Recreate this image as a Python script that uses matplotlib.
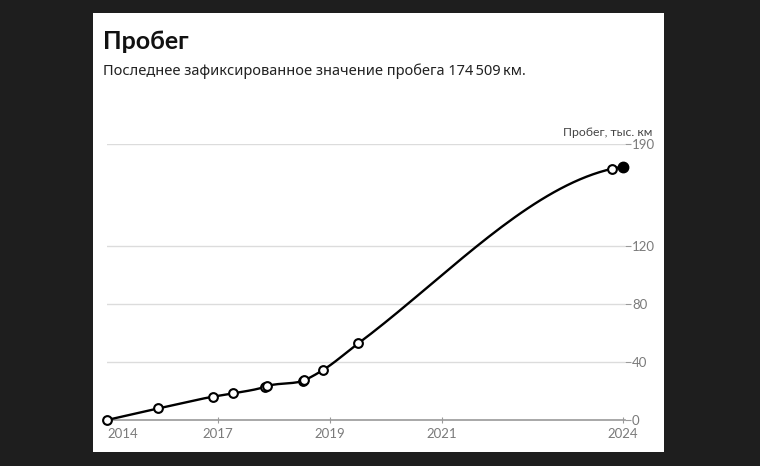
# -*- coding: utf-8 -*-
"""Пробег – mileage over time, single line with point markers."""

import numpy as np
import matplotlib
matplotlib.use("Agg")
import matplotlib.pyplot as plt
from matplotlib.patches import Rectangle

plt.rcParams["font.family"] = ["Lato", "Noto Sans", "DejaVu Sans"]

# ── Data ───────────────────────────────────────────────────────────────────────
# decimal years of each record, mileage in thousand km
years = [2014.90, 2015.86, 2016.87, 2017.26, 2017.85, 2017.89,
         2018.55, 2018.58, 2018.93, 2019.59, 2024.33, 2024.53]
mileage = [0.0, 8.0, 16.0, 18.4, 22.9, 23.4,
           26.8, 27.3, 34.4, 52.8, 173.0, 174.509]

tick_pos = [2014.90, 2016.97, 2019.06, 2021.15, 2024.53]
tick_labels = ["2014", "2017", "2019", "2021", "2024"]
y_ticks = [0, 40, 80, 120, 190]

TITLE = "Пробег"
SUBTITLE = "Последнее зафиксированное значение пробега 174\u2009509\u2009км."
Y_LABEL = "Пробег, тыс. км"


def monotone_x(x, y, n=40):
    """Monotone cubic (d3 curveMonotoneX-like) interpolation for drawing."""
    x = np.asarray(x, float); y = np.asarray(y, float)
    h = np.diff(x); s = np.diff(y) / h
    m = np.zeros_like(x)
    for i in range(1, len(x) - 1):
        p = (s[i - 1] * h[i] + s[i] * h[i - 1]) / (h[i - 1] + h[i])
        m[i] = (np.sign(s[i - 1]) + np.sign(s[i])) * min(abs(s[i - 1]), abs(s[i]), 0.5 * abs(p))
    m[0] = (3 * s[0] - m[1]) / 2
    m[-1] = (3 * s[-1] - m[-2]) / 2
    xs, ys = [], []
    for i in range(len(h)):
        t = np.linspace(0, 1, n)
        h00 = 2 * t**3 - 3 * t**2 + 1
        h10 = t**3 - 2 * t**2 + t
        h01 = -2 * t**3 + 3 * t**2
        h11 = t**3 - t**2
        xs.append(x[i] + t * h[i])
        ys.append(h00 * y[i] + h10 * h[i] * m[i] + h01 * y[i + 1] + h11 * h[i] * m[i + 1])
    return np.concatenate(xs), np.concatenate(ys)


W, H = 760, 466
fig = plt.figure(figsize=(W / 100, H / 100), dpi=100, facecolor="#1e1e1e")

# white card behind everything
fig.patches.append(Rectangle((93 / W, 1 - 452 / H), (664 - 93) / W, (452 - 13) / H,
                             transform=fig.transFigure, facecolor="white",
                             edgecolor="none", zorder=-10))

ax = fig.add_axes([107 / W, 1 - 420 / H, (625 - 107) / W, (420 - 144) / H])
ax.set_facecolor("none")

px_per_year = 53.6
ax.set_xlim(years[0], years[0] + (625 - 107) / px_per_year)
ax.set_ylim(0, 190)

for v in y_ticks[1:]:
    ax.axhline(v, color="#dcdcdc", linewidth=1, zorder=1)

cx, cy = monotone_x(years, mileage)
ax.plot(cx, cy, color="black", linewidth=1.7, zorder=3, clip_on=False)
ax.plot(years[:-1], mileage[:-1], "o", markersize=6.3, markerfacecolor="white",
        markeredgecolor="black", markeredgewidth=1.5, zorder=4, clip_on=False)
ax.plot(years[-1:], mileage[-1:], "o", markersize=7.5, color="black",
        zorder=5, clip_on=False)

for side in ["top", "left", "right"]:
    ax.spines[side].set_visible(False)
ax.spines["bottom"].set_color("#9a9a9a")
ax.spines["bottom"].set_linewidth(1.2)

ax.set_xticks(tick_pos)
ax.set_xticklabels(tick_labels)
ax.tick_params(axis="x", direction="inout", length=5, color="#9a9a9a",
               labelsize=9.5, labelcolor="#7a7a7a", pad=3)
ax.get_xticklabels()[0].set_ha("left")

ax.yaxis.tick_right()
ax.set_yticks(y_ticks)
ax.set_yticklabels([str(v) for v in y_ticks])
ax.tick_params(axis="y", direction="out", length=4, color="#9a9a9a",
               labelsize=9.5, labelcolor="#7a7a7a", pad=1)

fig.text(652 / W, 1 - 136 / H, Y_LABEL, ha="right", va="baseline",
         fontsize=8.8, color="#444444")
fig.text(103 / W, 1 - 49 / H, TITLE, ha="left", va="baseline",
         fontsize=18, fontweight="bold", color="#111111")
fig.text(103 / W, 1 - 75 / H, SUBTITLE, ha="left", va="baseline",
         fontsize=10.5, color="#222222", family=["Noto Sans", "DejaVu Sans"])

fig.savefig("out.png", dpi=100, facecolor=fig.get_facecolor())
